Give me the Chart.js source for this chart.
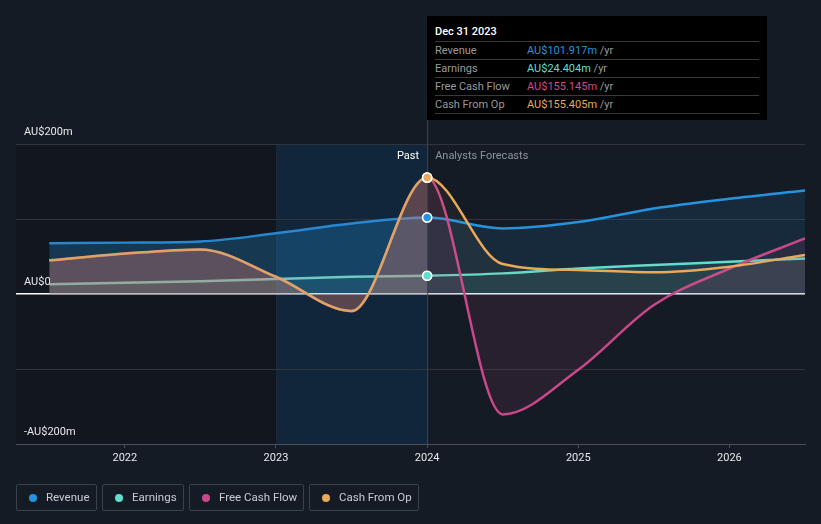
<!DOCTYPE html>
<html>
<head>
<meta charset="utf-8">
<script src="https://cdn.jsdelivr.net/npm/chart.js@4"></script>
<style>
  html, body { margin: 0; padding: 0; background: #151b24; }
  body { width: 821px; height: 524px; position: relative; overflow: hidden; font-family: Roboto, "Noto Sans", sans-serif; }
  #wrap { position: absolute; left: 0; top: 0; width: 821px; height: 524px; }
  .tip { position: absolute; left: 427px; top: 16px; width: 340px; height: 104px; background: #000; box-sizing: border-box; padding: 8px 8px 0 8px; color: #fff; font-size: 11px; }
  .tip .title { font-weight: 500; height: 17px; line-height: 15px; border-bottom: 1px solid #3a3a3a; }
  .tip .row { height: 17px; line-height: 17px; border-bottom: 1px solid #3a3a3a; color: #9a9a9a; }
  .tip .row span.l { display: inline-block; width: 92px; }
  .tip .row span.u { color: #9a9a9a; }
  .legend { position: absolute; top: 484px; left: 16px; display: flex; gap: 5px; }
  .legend div { border: 1px solid #3c424c; border-radius: 2px; box-sizing: border-box; height: 27px; padding: 0 0 0 12px; color: #c8ccd2; font-size: 11.5px; line-height: 25px; display: flex; align-items: center; white-space: nowrap; }
  .legend i { width: 8px; height: 8px; border-radius: 50%; display: inline-block; margin-right: 9px; flex: none; }
</style>
</head>
<body>
<div id="wrap"><canvas id="chart" width="821" height="524"></canvas></div>
<div class="tip">
  <div class="title">Dec 31 2023</div>
  <div class="row"><span class="l">Revenue</span><span style="color:#2394df">AU$101.917m</span> <span class="u">/yr</span></div>
  <div class="row"><span class="l">Earnings</span><span style="color:#62dccb">AU$24.404m</span> <span class="u">/yr</span></div>
  <div class="row"><span class="l">Free Cash Flow</span><span style="color:#d4498a">AU$155.145m</span> <span class="u">/yr</span></div>
  <div class="row"><span class="l">Cash From Op</span><span style="color:#e8a95a">AU$155.405m</span> <span class="u">/yr</span></div>
</div>
<div class="legend">
  <div style="width:81px"><i style="background:#2394df"></i>Revenue</div>
  <div style="width:82px"><i style="background:#62dccb"></i>Earnings</div>
  <div style="width:115px"><i style="background:#c8488a"></i>Free Cash Flow</div>
  <div style="width:110px"><i style="background:#e8a95a"></i>Cash From Op</div>
</div>
<script>
// periods as decimal years (mid-year / year-end)
const periods = [2021.5, 2022.0, 2022.5, 2023.0, 2023.5, 2024.0, 2024.5, 2025.0, 2025.5, 2026.0, 2026.5];
const revenue = [67.6, 68.5, 70, 81, 94, 101.9, 87.5, 96, 114, 127, 138];
const earnings = [13, 15, 17, 20, 23, 24.4, 27.5, 34, 38.7, 43, 47.5];
const freeCashFlow = [44.5, 53.5, 59, 22.5, -23, 155.1, -160.5, -101, -14.7, 34, 74];
const cashFromOp = [45, 54, 59.5, 23, -22.7, 155.4, 40, 32, 29, 36.4, 52];
const yearTicks = [2022, 2023, 2024, 2025, 2026];
const yLabels = { 200: "AU$200m", 0: "AU$0", "-200": "-AU$200m" };

const pastEnd = 2024.0;
const pastStart = 2023.0;
const hoverIdx = periods.indexOf(pastEnd);

function toPts(vals) {
  return vals.map((v, i) => ({ x: periods[i], y: v }));
}
function seg(past, future) {
  return ctx => (ctx.p1.parsed.x <= pastEnd ? past : future);
}
function dots(color) {
  return {
    pointRadius: periods.map((p, i) => (i === hoverIdx ? 4.5 : 0)),
    pointBackgroundColor: color,
    pointBorderColor: "#ffffff",
    pointBorderWidth: 1.5,
    pointHoverRadius: 0,
  };
}

const regions = {
  id: "regions",
  beforeDraw(chart) {
    const { ctx, chartArea: a, scales: { x } } = chart;
    const x23 = x.getPixelForValue(pastStart);
    const x24 = x.getPixelForValue(pastEnd);
    ctx.save();
    ctx.fillStyle = "#12161e";
    ctx.fillRect(a.left, a.top, x23 - a.left, a.bottom - a.top);
    ctx.fillStyle = "#11263a";
    ctx.fillRect(x23, a.top, x24 - x23, a.bottom - a.top);
    ctx.fillStyle = "#1b2a3a";
    ctx.fillRect(x23, a.top, 1, a.bottom - a.top);
    ctx.restore();
  },
  afterDatasetsDraw(chart) {
    const { ctx, chartArea: a, scales: { x, y } } = chart;
    const x24 = x.getPixelForValue(pastEnd);
    ctx.save();
    ctx.strokeStyle = "#2c4a64";
    ctx.lineWidth = 1;
    ctx.beginPath();
    ctx.moveTo(x24 + 0.5, 16);
    ctx.lineTo(x24 + 0.5, a.bottom);
    ctx.stroke();
    // redraw the hovered points on top of every fill
    chart.data.datasets.forEach((ds, i) => {
      const pt = chart.getDatasetMeta(i).data[hoverIdx];
      if (pt) pt.draw(ctx, a);
    });
    ctx.font = "11px Roboto";
    ctx.textBaseline = "middle";
    ctx.textAlign = "right";
    ctx.fillStyle = "#ffffff";
    ctx.fillText("Past", x24 - 8, a.top + 12);
    ctx.textAlign = "left";
    ctx.fillStyle = "#8d939c";
    ctx.fillText("Analysts Forecasts", x24 + 8, a.top + 12);
    ctx.fillStyle = "#e6e8eb";
    ctx.textAlign = "left";
    ctx.textBaseline = "alphabetic";
    Object.keys(yLabels).forEach(v => {
      ctx.fillText(yLabels[v], a.left + 8, y.getPixelForValue(+v) - 9);
    });
    ctx.restore();
  },
};

new Chart(document.getElementById("chart"), {
  type: "line",
  data: {
    datasets: [
      {
        label: "Revenue",
        order: 3,
        data: toPts(revenue),
        borderColor: "#2394df",
        backgroundColor: "rgba(35,148,223,0.13)",
        segment: {
          borderColor: seg("rgba(42,140,215,0.95)", "#2394df"),
          backgroundColor: seg("rgba(35,148,223,0.27)", "rgba(35,148,223,0.13)"),
        },
        borderWidth: 2.5,
        fill: "origin",
        ...dots("#2394df"),
      },
      {
        label: "Earnings",
        order: 2,
        data: toPts(earnings),
        borderColor: "#62dccb",
        backgroundColor: "rgba(98,220,203,0.1)",
        segment: { borderColor: seg("rgba(120,215,200,0.9)", "#62dccb") },
        borderWidth: 2.5,
        fill: "origin",
        ...dots("#62dccb"),
      },
      {
        label: "Free Cash Flow",
        order: 1,
        data: toPts(freeCashFlow),
        borderColor: "#c8488a",
        backgroundColor: "rgba(200,72,138,0.11)",
        segment: {
          borderColor: seg("rgba(200,72,138,0.9)", "#c8488a"),
          backgroundColor: seg("rgba(200,72,138,0.2)", "rgba(200,72,138,0.11)"),
        },
        borderWidth: 2.5,
        fill: "origin",
        ...dots("#c8488a"),
      },
      {
        label: "Cash From Op",
        order: 0,
        data: toPts(cashFromOp),
        borderColor: "#e8a95a",
        backgroundColor: "rgba(232,169,90,0.05)",
        segment: {
          borderColor: seg("rgba(222,170,100,0.95)", "#e8a95a"),
          backgroundColor: seg("rgba(232,169,90,0.2)", "rgba(232,169,90,0.05)"),
        },
        borderWidth: 2.5,
        fill: "origin",
        ...dots("#e8a95a"),
      },
    ],
  },
  options: {
    responsive: false,
    animation: false,
    events: [],
    cubicInterpolationMode: "monotone",
    layout: { padding: { left: 16, right: 16, top: 144, bottom: 54 } },
    plugins: { legend: { display: false }, tooltip: { enabled: false } },
    scales: {
      x: {
        type: "linear",
        min: 2021.28,
        max: 2026.5,
        afterBuildTicks(scale) {
          scale.ticks = yearTicks.map(v => ({ value: v }));
        },
        afterFit(scale) { scale.height = 26; },
        ticks: {
          color: "#e6e8eb",
          font: { family: "Roboto", size: 11 },
          padding: 4,
          maxRotation: 0,
          callback: v => String(v),
        },
        grid: { drawOnChartArea: false, color: "#4a4f58", tickLength: 4 },
        border: { color: "#4a4f58" },
      },
      y: {
        min: -200,
        max: 200,
        afterFit(scale) { scale.width = 0; },
        ticks: { display: false, stepSize: 100 },
        grid: {
          drawTicks: false,
          color: ctx => (ctx.tick.value === 0 ? "#ffffff" : "#2f343d"),
          lineWidth: ctx => (ctx.tick.value === 0 ? 1.5 : 1),
        },
        border: { display: false },
      },
    },
  },
  plugins: [regions],
});
</script>
</body>
</html>
